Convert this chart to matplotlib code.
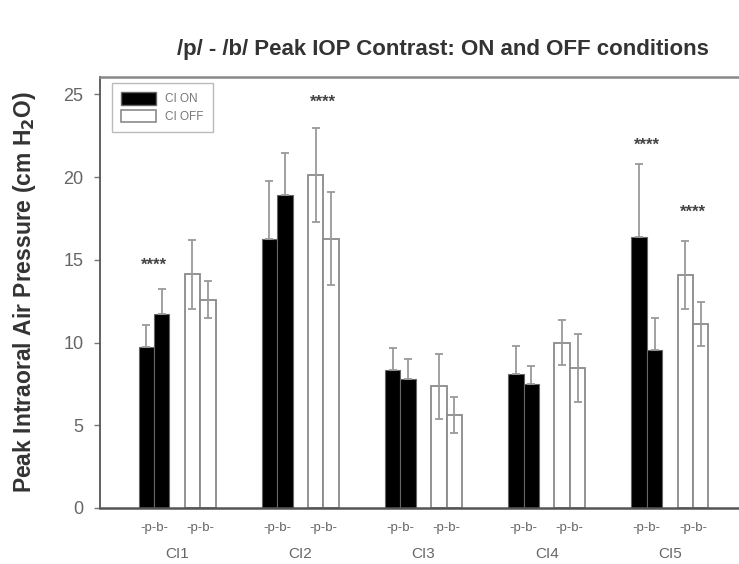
import matplotlib
matplotlib.use("Agg")
import matplotlib.pyplot as plt
import numpy as np
from matplotlib.patches import Patch

plt.rcParams['font.family'] = ['Liberation Sans', 'DejaVu Sans']

groups = ["CI1", "CI2", "CI3", "CI4", "CI5"]
pair_label = "-p-b-"

on_p = [9.72, 16.25, 8.36, 8.11, 16.37]
on_p_err = [1.37, 3.5, 1.33, 1.67, 4.4]
on_b = [11.70, 18.94, 7.77, 7.51, 9.52]
on_b_err = [1.51, 2.5, 1.21, 1.1, 1.97]
off_p = [14.12, 20.14, 7.35, 10.0, 14.1]
off_p_err = [2.1, 2.85, 1.95, 1.35, 2.05]
off_b = [12.59, 16.27, 5.63, 8.48, 11.14]
off_b_err = [1.1, 2.82, 1.1, 2.05, 1.32]

# significance markers: (group index, pair, y)
sig_marks = [(0, "on", 14.66), (1, "off", 24.5), (4, "on", 21.95), (4, "off", 17.9)]

title = "/p/ - /b/ Peak IOP Contrast: ON and OFF conditions"
ylabel = "Peak Intraoral Air Pressure (cm H$_\\mathbf{2}$O)"

fig = plt.figure(figsize=(7.39, 5.64), dpi=100)
ax = fig.add_axes([100/739, 56/564, 647/739, 431/564])

x = np.arange(len(groups))
w = 0.125
err_kw = dict(ecolor="#9a9a9a", elinewidth=1.3, capsize=3, capthick=1.3)

def upper_only(err):
    return [np.zeros(len(err)), err]

ax.bar(x - 2*w, on_p, w, color="black", edgecolor="#666666", linewidth=0.8,
       yerr=upper_only(on_p_err), error_kw=err_kw, zorder=2)
ax.bar(x - w, on_b, w, color="black", edgecolor="#666666", linewidth=0.8,
       yerr=upper_only(on_b_err), error_kw=err_kw, zorder=2)
ax.bar(x + w, off_p, w, color="white", edgecolor="#8a8a8a", linewidth=1.3,
       yerr=off_p_err, error_kw=err_kw, zorder=2)
ax.bar(x + 2*w, off_b, w, color="white", edgecolor="#8a8a8a", linewidth=1.3,
       yerr=off_b_err, error_kw=err_kw, zorder=2)

for gi, key, yv in sig_marks:
    xc = x[gi] - 1.5*w if key == "on" else x[gi] + 1.5*w
    ax.text(xc, yv, "****", ha="center", va="center", fontsize=12,
            fontweight="bold", color="#444444")

ax.set_xlim(-0.625, 4.625)
ax.set_ylim(0, 26.05)
ax.set_yticks([0, 5, 10, 15, 20, 25])
ax.tick_params(axis="y", direction="out", length=4, width=1, color="#777777",
               labelsize=13, labelcolor="#666666", pad=8)

pair_pos = np.concatenate([x - 1.5*w, x + 1.5*w])
ax.set_xticks(pair_pos, minor=True)
ax.set_xticklabels([pair_label]*len(pair_pos), minor=True)
ax.set_xticks(x)
ax.set_xticklabels(groups)
ax.tick_params(axis="x", which="minor", length=0, labelsize=9.5,
               labelcolor="#666666", pad=10)
ax.tick_params(axis="x", which="major", length=0, labelsize=11,
               labelcolor="#666666", pad=28)

for s in ["left", "top", "bottom", "right"]:
    ax.spines[s].set_color("#555555")
ax.spines["bottom"].set_linewidth(1.8)
ax.spines["left"].set_linewidth(1.3)
ax.spines["top"].set_linewidth(1.8)
ax.spines["top"].set_color("#888888")

ax.set_ylabel(ylabel, fontsize=16.5, fontweight="bold", color="#333333")
ax.yaxis.set_label_coords(-(100 - 38)/647, 0.5)

fig.text(443/739, 1 - 49/564, title, ha="center", va="center",
         fontsize=16, fontweight="bold", color="#333333")

handles = [Patch(facecolor="black", edgecolor="#666666", label="CI ON"),
           Patch(facecolor="white", edgecolor="#8a8a8a", linewidth=1.2, label="CI OFF")]
leg = ax.legend(handles=handles, loc="upper left", bbox_to_anchor=(12/647, 1 - 6/431),
                borderaxespad=0, fontsize=8.5, frameon=True, fancybox=False,
                handlelength=2.9, handleheight=1.2, handletextpad=0.8,
                labelspacing=0.35, borderpad=0.8, labelcolor="#777777")
leg.get_frame().set_edgecolor("#aaaaaa")
leg.get_frame().set_linewidth(1.0)

fig.savefig("out.png", dpi=100)
